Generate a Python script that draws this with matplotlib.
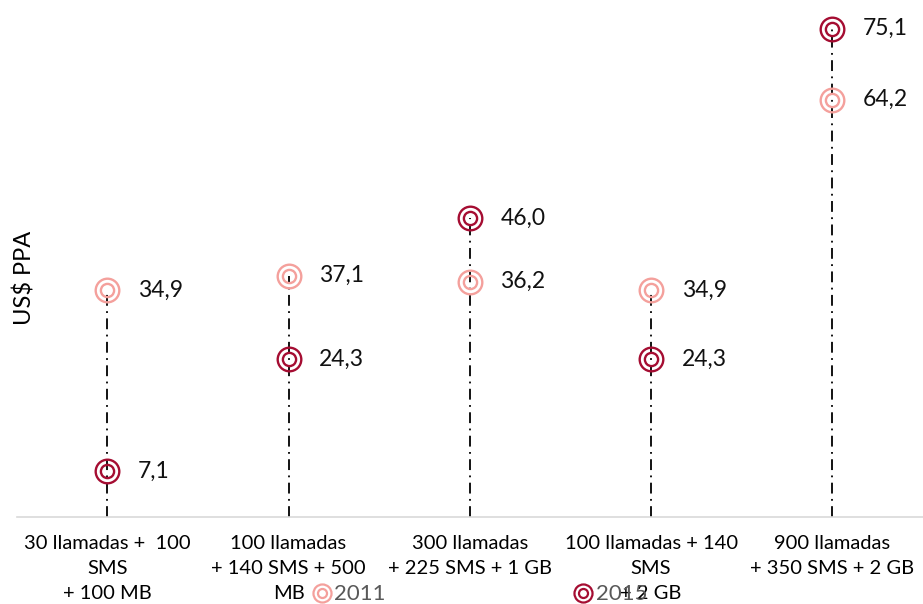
import matplotlib
matplotlib.use("Agg")
import matplotlib.pyplot as plt
from matplotlib.lines import Line2D

plt.rcParams['font.family'] = ['Lato', 'DejaVu Sans']

categorias = ["30 llamadas +  100\nSMS\n+ 100 MB",
              "100 llamadas\n+ 140 SMS + 500\nMB",
              "300 llamadas\n+ 225 SMS + 1 GB",
              "100 llamadas + 140\nSMS\n+ 2 GB",
              "900 llamadas\n+ 350 SMS + 2 GB"]
v2011 = [34.9, 37.1, 36.2, 34.9, 64.2]
v2015 = [7.1, 24.3, 46.0, 24.3, 75.1]
etiquetas2011 = ["34,9", "37,1", "36,2", "34,9", "64,2"]
etiquetas2015 = ["7,1", "24,3", "46,0", "24,3", "75,1"]

c2011 = "#F4A09C"
c2015 = "#A50D32"

fig = plt.figure(figsize=(9.23, 6.04), dpi=100)
ax = fig.add_axes([0.018, 0.144, 0.982, 0.856])

x = list(range(len(categorias)))
for i in x:
    top = max(v2011[i], v2015[i])
    ax.plot([i, i], [0, top], color="black", lw=1.3, ls=(0, (6, 3, 1, 3)), zorder=1)

def anillos(xs, ys, col):
    ax.plot(xs, ys, ls="none", marker="o", ms=17, mfc="none", mec=col, mew=1.7, zorder=3)
    ax.plot(xs, ys, ls="none", marker="o", ms=9.5, mfc="none", mec=col, mew=1.7, zorder=3)

anillos(x, v2011, c2011)
anillos(x, v2015, c2015)

for i in x:
    ax.annotate(etiquetas2011[i], (i, v2011[i]), xytext=(22, 0), textcoords="offset points",
                va="center", ha="left", fontsize=16.5, color="#111111")
    ax.annotate(etiquetas2015[i], (i, v2015[i]), xytext=(22, 0), textcoords="offset points",
                va="center", ha="left", fontsize=16.5, color="#111111")

ax.set_xlim(-0.5, 4.5)
ax.set_ylim(0, 79.5)
ax.set_xticks(x)
ax.set_xticklabels(categorias, fontsize=14.5, linespacing=1.58)
ax.tick_params(axis="x", length=0, pad=13)
ax.set_yticks([])
for s in ["top", "right", "left"]:
    ax.spines[s].set_visible(False)
ax.spines["bottom"].set_color("#D9D9D9")
ax.spines["bottom"].set_linewidth(1.2)

fig.text(0.027, 0.54, "US$ PPA", rotation=90, fontsize=17, va="center", ha="center")

h2011 = (Line2D([], [], ls="none", marker="o", ms=13, mfc="none", mec=c2011, mew=1.6),
         Line2D([], [], ls="none", marker="o", ms=6.5, mfc="none", mec=c2011, mew=1.6))
h2015 = (Line2D([], [], ls="none", marker="o", ms=13, mfc="none", mec=c2015, mew=1.6),
         Line2D([], [], ls="none", marker="o", ms=6.5, mfc="none", mec=c2015, mew=1.6))
fig.legend([h2011, h2015], ["2011", "2015"], loc="center", bbox_to_anchor=(0.52, 0.016),
           ncol=2, frameon=False, fontsize=16, labelcolor="#595959", columnspacing=8.5,
           handlelength=0.8, handletextpad=0.15, borderpad=0)

fig.savefig("out.png", dpi=100)
